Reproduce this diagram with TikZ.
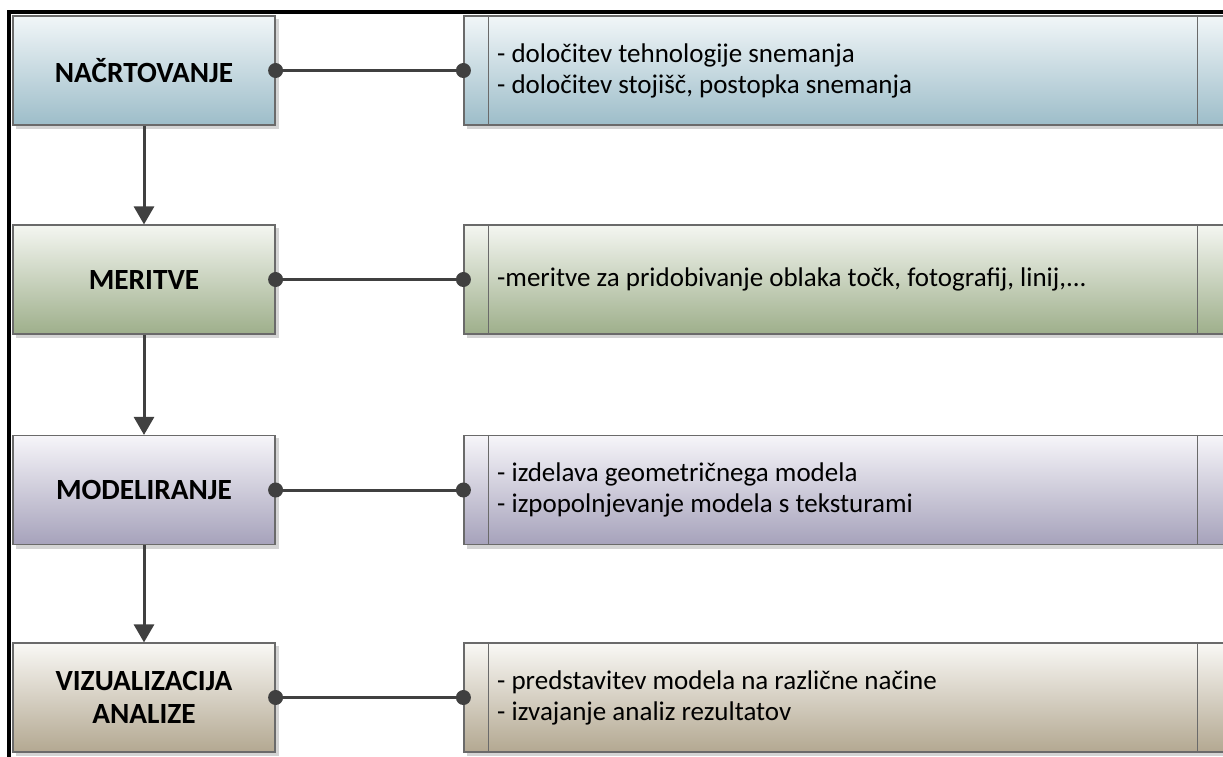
\documentclass[tikz,border=0pt]{standalone}
\usepackage{fontspec}
\setmainfont{Carlito}
\usetikzlibrary{arrows.meta,backgrounds}

\definecolor{edge}{HTML}{6A6A6A}
\definecolor{ink}{HTML}{404040}
\definecolor{shadowc}{HTML}{D4D4D4}
\definecolor{blueTop}{HTML}{F1F6F8}
\definecolor{blueBot}{HTML}{9DBDC9}
\definecolor{greenTop}{HTML}{F4F6F1}
\definecolor{greenBot}{HTML}{9EAF8B}
\definecolor{violetTop}{HTML}{F6F5F9}
\definecolor{violetBot}{HTML}{A6A2BB}
\definecolor{sandTop}{HTML}{F9F8F5}
\definecolor{sandBot}{HTML}{B3A891}

\tikzset{
  stage/.style={draw=edge, line width=1.2pt, minimum width=262pt, minimum height=109pt,
    inner sep=0pt, align=center, font=\fontsize{29.3}{33}\selectfont\bfseries},
  detail/.style={draw=edge, line width=1.2pt, minimum width=776pt, minimum height=109pt,
    inner sep=0pt},
  note/.style={anchor=west, inner sep=0pt, align=left, font=\fontsize{27}{31}\selectfont},
  link/.style={draw=ink, line width=3pt},
  flow/.style={draw=ink, line width=3pt, -{Triangle[width=20pt,length=18pt]}},
  dot/.style={fill=ink},
  divider/.style={draw=edge, line width=1.2pt},
}

\begin{document}
\begin{tikzpicture}[x=1pt, y=-1pt]
  \useasboundingbox (0,0) rectangle (1223,756);
  \clip (0,0) rectangle (1223,756);

  % outer frame
  \draw[black, line width=3.2pt] (9,800) -- (9,12) -- (1300,12);

  % stage boxes on the left
  \node[stage, top color=blueTop, bottom color=blueBot]     (s1) at (144,70.5)  {NAČRTOVANJE};
  \node[stage, top color=greenTop, bottom color=greenBot]   (s2) at (144,279.5) {MERITVE};
  \node[stage, top color=violetTop, bottom color=violetBot] (s3) at (144,490)   {MODELIRANJE};
  \node[stage, top color=sandTop, bottom color=sandBot]     (s4) at (144,697.5) {VIZUALIZACIJA\\ANALIZE};

  % detail boxes on the right
  \node[detail, top color=blueTop, bottom color=blueBot]     (d1) at (852,70.5)  {};
  \node[detail, top color=greenTop, bottom color=greenBot]   (d2) at (852,279.5) {};
  \node[detail, top color=violetTop, bottom color=violetBot] (d3) at (852,490)   {};
  \node[detail, top color=sandTop, bottom color=sandBot]     (d4) at (852,697.5) {};

  \foreach \d in {d1,d2,d3,d4}{
    \draw[divider] ([xshift=25pt]\d.north west) -- ([xshift=25pt]\d.south west);
    \draw[divider] ([xshift=734pt]\d.north west) -- ([xshift=734pt]\d.south west);
  }

  % shadows behind all boxes
  \begin{pgfonlayer}{background}
    \foreach \b in {s1,s2,s3,s4,d1,d2,d3,d4}{
      \fill[shadowc] ([shift={(3.5,3.5)}]\b.north west) rectangle ([shift={(3.5,3.5)}]\b.south east);
    }
  \end{pgfonlayer}

  % texts of the detail boxes
  \node[note] (t1) at (497,70.5)  {- določitev tehnologije snemanja\\- določitev stojišč, postopka snemanja};
  \node[note] (t2) at (497,279.5) {-meritve za pridobivanje oblaka točk, fotografij, linij,...};
  \node[note] (t3) at (497,490)   {- izdelava geometričnega modela\\- izpopolnjevanje modela s teksturami};
  \node[note] (t4) at (497,697.5) {- predstavitev modela na različne načine\\- izvajanje analiz rezultatov};

  % process flow
  \draw[flow] (s1.south) -- (s2.north);
  \draw[flow] (s2.south) -- (s3.north);
  \draw[flow] (s3.south) -- (s4.north);

  % links between stages and details
  \foreach \i in {1,2,3,4}{
    \draw[link] (s\i.east) -- (d\i.west);
    \fill[dot] (s\i.east) circle (7.5);
    \fill[dot] (d\i.west) circle (7.5);
  }
\end{tikzpicture}
\end{document}
